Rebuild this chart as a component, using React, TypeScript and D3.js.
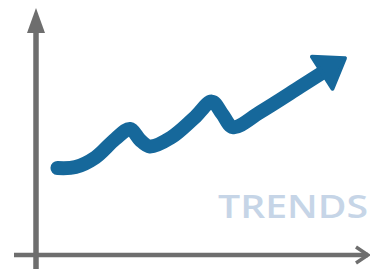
import React from 'react';
import * as d3 from 'd3';

// trend samples (x = period, y = level)
const periods = [6.5, 12, 18, 24, 28.5, 31.5, 34.5, 41, 48, 53.3, 56.4, 59.7, 68, 80, 88];
const levels = [35.5, 35.9, 39.8, 47.3, 51.4, 47, 44.3, 48, 56, 62.6, 57.6, 52.2, 58.4, 68.6, 75.5];
const label = 'TRENDS';

const W = 370;
const H = 269;

export default function App() {
  const x = d3.scaleLinear().domain([0, 100]).range([36, 366]);
  const y = d3.scaleLinear().domain([0, 100]).range([255, 10]);

  const pts: [number, number][] = periods.map((p, i) => [x(p), y(levels[i])]);

  const line = d3.line<[number, number]>()
    .x(d => d[0])
    .y(d => d[1])
    .curve(d3.curveCatmullRom.alpha(0.5));

  // arrowhead at the end of the trend, pointing along the last segment
  const [ex, ey] = pts[pts.length - 1];
  const [px, py] = pts[pts.length - 2];
  const ang = Math.atan2(ey - py, ex - px);
  const head = (len: number, side: number) => [
    ex + Math.cos(ang) * len + Math.cos(ang + Math.PI / 2) * side,
    ey + Math.sin(ang) * len + Math.sin(ang + Math.PI / 2) * side,
  ];
  const arrow = [head(22, 0), head(-5, -19), head(-5, 19)].map(p => p.join(',')).join(' ');

  const axisColor = '#6e6e6e';
  const blue = '#16689b';

  return (
    <svg width={W} height={H} style={{ position: 'absolute', left: 0, top: 0 }}>
      <rect width={W} height={H} fill="#fff" />
      {/* y axis */}
      <line x1={x(0)} x2={x(0)} y1={H} y2={30} stroke={axisColor} strokeWidth={5.5} />
      <polygon points={`${x(0)},8 ${x(0) - 9},33 ${x(0) + 9},33`} fill={axisColor} />
      {/* x axis */}
      <line x1={14} x2={368} y1={y(0)} y2={y(0)} stroke={axisColor} strokeWidth={4.5} />
      <polyline
        points={`356,247 368,${y(0)} 356,263`}
        fill="none"
        stroke={axisColor}
        strokeWidth={3.5}
      />
      {/* trend */}
      <path d={line(pts) ?? ''} fill="none" stroke={blue} strokeWidth={14} strokeLinecap="round" strokeLinejoin="round" />
      <polygon points={arrow} fill={blue} stroke={blue} strokeWidth={4} strokeLinejoin="round" />
      <text
        x={218}
        y={218}
        fontFamily="'Open Sans', sans-serif"
        fontWeight={600}
        fontSize={32}
        fill="#c6d5e7"
        textLength={150}
        lengthAdjust="spacingAndGlyphs"
      >
        {label}
      </text>
    </svg>
  );
}
